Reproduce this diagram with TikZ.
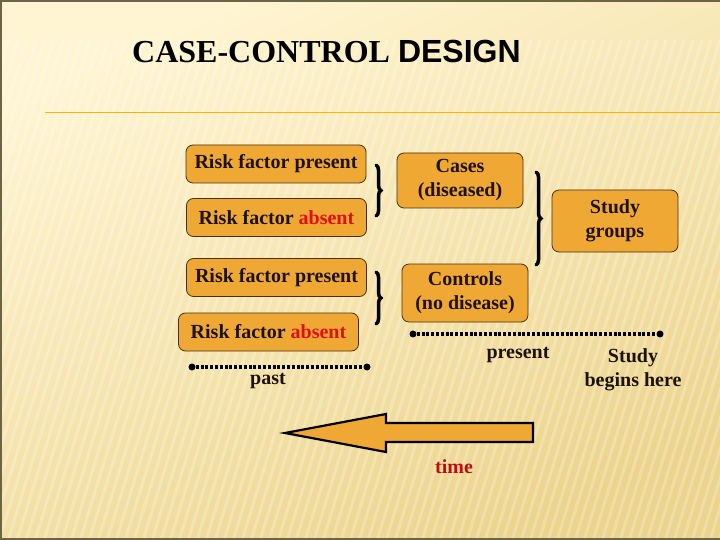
\documentclass[tikz,border=0pt]{standalone}
\usepackage{fontspec}
\setmainfont{Liberation Serif}
\newfontfamily\headsans{Liberation Sans}
\usetikzlibrary{decorations.pathreplacing}
\definecolor{boxfill}{HTML}{F0A835}
\definecolor{boxline}{HTML}{4A3010}
\definecolor{inktext}{HTML}{1E1208}
\definecolor{redword}{HTML}{E01010}
\definecolor{paperlight}{HTML}{FFF5D2}
\definecolor{paperdark}{HTML}{ECD48C}
\definecolor{rimline}{HTML}{6B6545}
\begin{document}
\begin{tikzpicture}[x=1pt,y=-1pt,
    every node/.style={font=\fontsize{20}{24}\selectfont\bfseries,
          text=inktext, align=center, inner sep=0pt},
    factor/.style={draw=boxline, fill=boxfill, line width=0.8pt,
          rounded corners=7pt, minimum width=180pt, minimum height=38pt},
    group/.style={factor, minimum width=126pt},
    curly/.style={line width=3.5pt, line cap=round,
          decorate, decoration={brace, amplitude=5pt}},
    tick/.style={circle, fill=black, minimum size=7pt},
    span/.style={line width=4pt, dash pattern=on 3pt off 1.8pt}]
  \useasboundingbox (0,0) rectangle (720,540);
  % paper
  \shade[top color=paperlight, bottom color=paperdark, shading angle=25]
    (0,0) rectangle (720,540);
  \begin{scope}
    \clip (0,0) rectangle (720,540);
    \foreach \i in {-160,-151,...,720}
      \draw[white, opacity=0.25, line width=3pt] (\i,560) -- (\i+160,40);
  \end{scope}
  \draw[rimline, line width=2pt] (720,1) -- (1,1) -- (1,539) -- (720,539);
  \draw[orange!60!yellow, line width=1pt] (45,113) -- (720,113);

  % title
  \node[anchor=base west, font=\fontsize{32}{36}\selectfont\bfseries, text=black]
    (title) at (132,63) {CASE-CONTROL {\headsans DESIGN}};

  % exposure boxes
  \node[factor] (rf1) at (276,164) {Risk factor present};
  \node[factor] (rf2) at (276.5,217.5) {Risk factor \textcolor{redword}{absent}};
  \node[factor] (rf3) at (276.5,277.5) {Risk factor present};
  \node[factor] (rf4) at (268.5,332) {Risk factor \textcolor{redword}{absent}};

  % groups
  \node[group, minimum height=55pt] (cases) at (460,180.5) {Cases\\(diseased)};
  \node[group, minimum height=58pt] (controls) at (465,293) {Controls\\(no disease)};
  \node[group, minimum height=62pt] (study) at (615,221) {Study\\groups};

  % braces
  \coordinate (b1a) at (376,165); \coordinate (b1b) at (376,216);
  \coordinate (b2a) at (376,272); \coordinate (b2b) at (376,324);
  \coordinate (b3a) at (536,172); \coordinate (b3b) at (536,265);
  \draw[curly] (b1a) -- (b1b);
  \draw[curly] (b2a) -- (b2b);
  \draw[curly] (b3a) -- (b3b);

  % time spans
  \node[tick] (pastL) at (192,367) {};
  \node[tick] (pastR) at (367,367) {};
  \node[tick] (nowL) at (413,334) {};
  \node[tick] (nowR) at (660,334) {};
  \draw[span] (pastL) -- (pastR);
  \draw[span] (nowL) -- (nowR);
  \node (past) at (268,381) {past};
  \node (present) at (518,355) {present};
  \node (begins) at (633,370) {Study\\begins here};

  % time arrow
  \filldraw[fill=boxfill, draw=black, line width=2.2pt, line join=miter]
    (285,433) -- (386,414) -- (386,423) -- (533,423) -- (533,442)
    -- (386,442) -- (386,452) -- cycle;
  \node[text=redword!85!black] (time) at (454,467) {time};
\end{tikzpicture}
\end{document}
